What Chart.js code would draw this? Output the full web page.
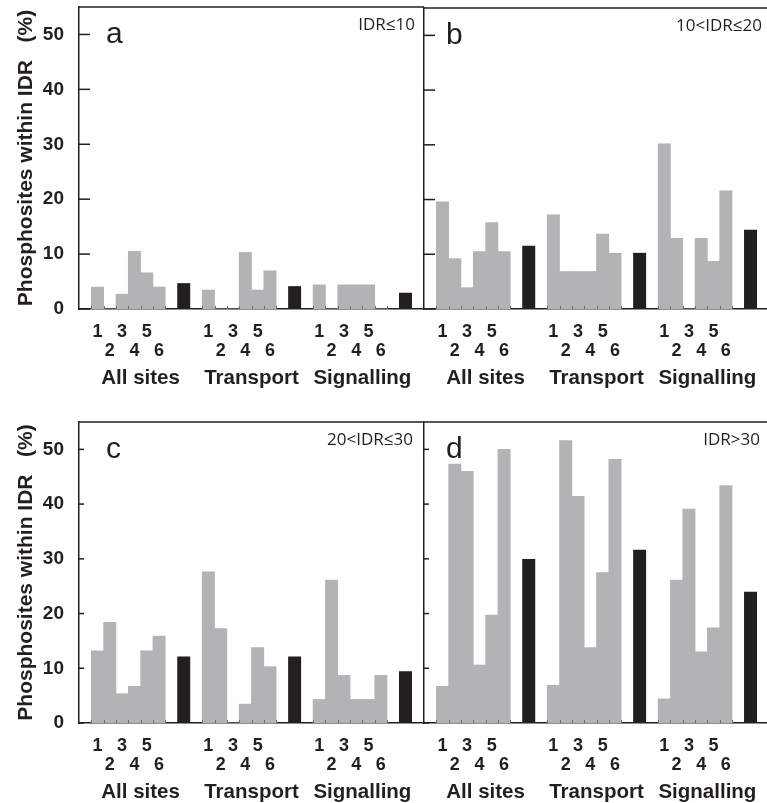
<!DOCTYPE html>
<html>
<head>
<meta charset="utf-8">
<title>Phosphosites within IDR</title>
<script src="https://cdn.jsdelivr.net/npm/chart.js@4.4.0/dist/chart.umd.min.js"></script>
<style>
  html, body { margin: 0; padding: 0; background: #fff; overflow: hidden; width: 767px; height: 803px; }
  .panel { position: absolute; }
  .panel canvas { display: block; }
</style>
</head>
<body>
<div class="panel" style="left:0;top:0"><canvas id="chartA" width="424" height="400"></canvas></div>
<div class="panel" style="left:420px;top:0"><canvas id="chartB" width="349" height="400"></canvas></div>
<div class="panel" style="left:0;top:400px"><canvas id="chartC" width="424" height="403"></canvas></div>
<div class="panel" style="left:420px;top:400px"><canvas id="chartD" width="349" height="403"></canvas></div>
<script>
const groups = ['All sites', 'Transport', 'Signalling'];
const classes = ['1', '2', '3', '4', '5', '6'];
const yTicks = [0, 10, 20, 30, 40, 50];
const yMax = 55;

// gray bars: classes 1-6 per group, black bar: whole group
const grayA = [
  [4.0, 0, 2.7, 10.5, 6.6, 4.0],
  [3.45, 0, 0, 10.3, 3.45, 6.95],
  [4.4, 0, 4.4, 4.4, 4.4, 0]
];
const blackA = [4.65, 4.1, 2.9];

const grayB = [
  [19.6, 9.2, 3.9, 10.5, 15.8, 10.5],
  [17.2, 6.85, 6.85, 6.85, 13.7, 10.2],
  [30.2, 12.9, 0, 12.9, 8.7, 21.6]
];
const blackB = [11.5, 10.2, 14.4];

const grayC = [
  [13.2, 18.4, 5.35, 6.7, 13.2, 15.9],
  [27.6, 17.25, 0, 3.45, 13.8, 10.3],
  [4.3, 26.1, 8.7, 4.3, 4.3, 8.7]
];
const blackC = [12.1, 12.1, 9.4];

const grayD = [
  [6.7, 47.3, 46.0, 10.6, 19.7, 50.0],
  [6.9, 51.6, 41.4, 13.8, 27.5, 48.2],
  [4.4, 26.1, 39.1, 13.0, 17.4, 43.4]
];
const blackD = [29.9, 31.6, 23.9];

const GRAY = '#b2b3b5', BLACK = '#231f20', INK = '#231f20';
const SANS = '"Liberation Sans", Arial, Helvetica, sans-serif';
Chart.defaults.font.family = SANS;

// one empty slot in front, then per group: 6 classes, gap, black bar, gap
function slotLabels() {
  const labels = [''];
  groups.forEach(() => {
    classes.forEach((c, i) => labels.push(i % 2 === 0 ? [c, ''] : ['', c]));
    labels.push('', '', '');
  });
  return labels;
}

function slotValues(gray, black) {
  const g = [null], b = [null];
  groups.forEach((_, k) => {
    gray[k].forEach(v => { g.push(v); b.push(null); });
    g.push(null, null, null);
    b.push(null, black[k], null);
  });
  return [g, b];
}

const decor = {
  id: 'decor',
  afterDraw(chart, args, o) {
    const {ctx, chartArea: a, scales: {x, y}} = chart;
    ctx.save();
    ctx.strokeStyle = INK;
    ctx.lineWidth = 1.5;
    ctx.beginPath(); ctx.moveTo(a.left, a.top); ctx.lineTo(a.right, a.top); ctx.stroke();
    // y ticks point inward
    yTicks.forEach(v => {
      const py = y.getPixelForValue(v);
      ctx.beginPath(); ctx.moveTo(a.left, py); ctx.lineTo(a.left + o.tickLen, py); ctx.stroke();
    });
    // little marks at the gray bar edges
    ctx.strokeStyle = '#6d6e70';
    ctx.lineWidth = 1;
    groups.forEach((_, k) => {
      for (let i = 0; i <= 6; i++) {
        const px = Math.round((x.getPixelForValue(k * 9 + i) + x.getPixelForValue(k * 9 + i + 1)) / 2) + 0.5;
        ctx.beginPath(); ctx.moveTo(px, a.bottom); ctx.lineTo(px, a.bottom - 3); ctx.stroke();
      }
    });
    ctx.fillStyle = INK;
    ctx.font = '30px ' + SANS;
    ctx.textAlign = 'left';
    ctx.textBaseline = 'alphabetic';
    ctx.fillText(o.letter, a.left + o.letterDx, a.top + 36);
    ctx.font = '17px "Open Sans", sans-serif';
    ctx.textAlign = 'right';
    ctx.fillText(o.range, a.right - o.rangeDx, a.top + 23);
    ctx.font = 'bold 20.5px ' + SANS;
    ctx.textAlign = 'center';
    ctx.textBaseline = 'middle';
    groups.forEach((g, k) => ctx.fillText(g, x.getPixelForValue(4.5 + k * 9), a.bottom + 69));
    ctx.restore();
  }
};

function makeChart(id, gray, black, opt) {
  const [g, b] = slotValues(gray, black);
  const barOpts = { categoryPercentage: 1, barPercentage: 1, grouped: false, borderWidth: 0 };
  return new Chart(document.getElementById(id), {
    type: 'bar',
    data: {
      labels: slotLabels(),
      datasets: [
        Object.assign({ data: g, backgroundColor: GRAY }, barOpts),
        Object.assign({ data: b, backgroundColor: BLACK }, barOpts)
      ]
    },
    options: {
      responsive: false,
      animation: false,
      events: [],
      layout: { padding: { top: opt.top, left: 0, right: 0, bottom: 0 } },
      plugins: {
        legend: { display: false },
        tooltip: { enabled: false },
        decor: { letter: opt.letter, letterDx: opt.letterDx, range: opt.range, rangeDx: opt.rangeDx, tickLen: opt.tickLen }
      },
      scales: {
        x: {
          grid: { display: false },
          border: { color: INK, width: 1.5 },
          ticks: {
            autoSkip: false, maxRotation: 0, padding: 6, color: INK,
            font: { size: 18, weight: 'bold', lineHeight: '18.5px' }
          },
          afterFit: s => { s.height = opt.xHeight; s.paddingLeft = 0; s.paddingRight = 0; }
        },
        y: {
          min: 0, max: yMax,
          grid: { display: false },
          border: { color: INK, width: 1.5 },
          ticks: { display: opt.showY, padding: 7, color: INK, font: { size: 19, weight: 'bold' } },
          afterBuildTicks: s => { s.ticks = yTicks.map(v => ({ value: v })); },
          afterFit: s => { s.width = opt.yWidth; s.paddingTop = 0; s.paddingBottom = 0; },
          title: {
            display: opt.showY,
            text: 'Phosphosites within IDR   (%)',
            color: INK,
            font: { size: 21, weight: 'bold' },
            padding: { top: 14, bottom: 0 }
          }
        }
      }
    },
    plugins: [decor]
  });
}

makeChart('chartA', grayA, blackA, { top: 7, xHeight: 91, yWidth: 79, showY: true, letter: 'a', letterDx: 27, range: 'IDR≤10', rangeDx: 9, tickLen: 11 });
makeChart('chartB', grayB, blackB, { top: 8, xHeight: 91, yWidth: 4, showY: false, letter: 'b', letterDx: 22, range: '10<IDR≤20', rangeDx: 7, tickLen: 11 });
makeChart('chartC', grayC, blackC, { top: 22, xHeight: 80, yWidth: 79, showY: true, letter: 'c', letterDx: 27, range: '20<IDR≤30', rangeDx: 11, tickLen: 5 });
makeChart('chartD', grayD, blackD, { top: 22, xHeight: 80, yWidth: 4, showY: false, letter: 'd', letterDx: 22, range: 'IDR>30', rangeDx: 9, tickLen: 5 });
</script>
</body>
</html>
